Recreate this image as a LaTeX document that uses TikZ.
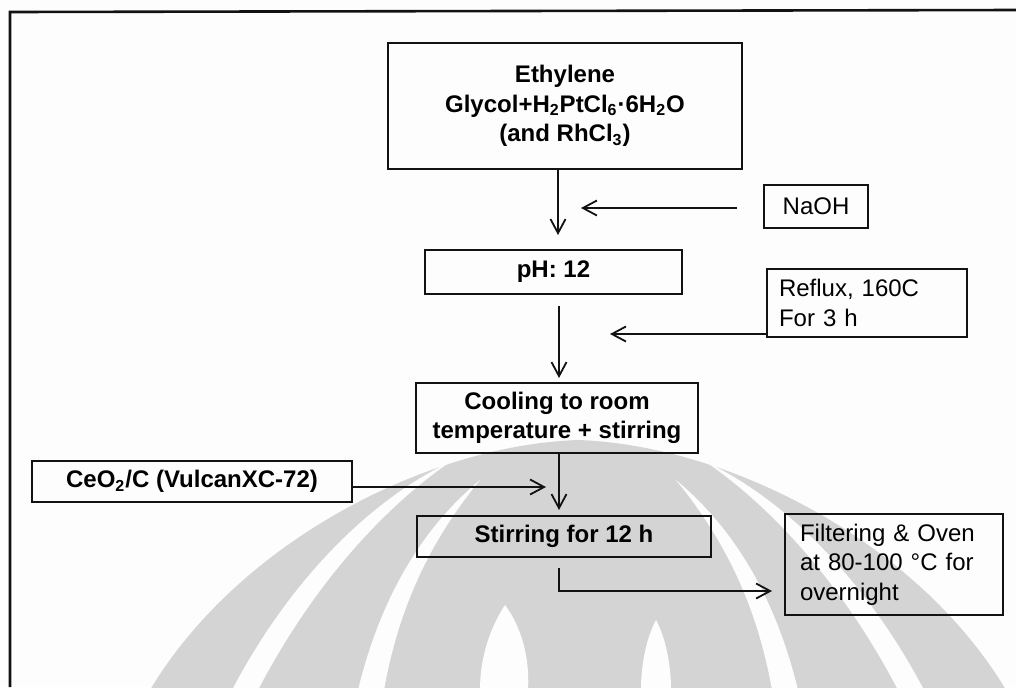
\documentclass[tikz,border=0pt]{standalone}
\usepackage{fontspec}
\setmainfont{Liberation Sans}
\usetikzlibrary{arrows.meta}
\definecolor{ink}{RGB}{18,18,18}
\definecolor{wm}{RGB}{212,212,212}
\definecolor{paper}{RGB}{253,253,253}

\begin{document}
\begin{tikzpicture}[x=0.5pt,y=-0.5pt,
  box/.style={draw=ink, line width=1.2pt, inner sep=0pt, align=center,
    font=\fontsize{12}{14.75}\selectfont},
  boldbox/.style={box, font=\fontsize{12}{14.75}\selectfont\bfseries},
  notebox/.style={box, align=left, inner xsep=6pt},
  arr/.style={draw=ink, line width=0.9pt, -{Straight Barb[length=7pt,width=7.5pt,line width=0.9pt]}},
  frame/.style={draw=ink, line width=1.3pt}]
\useasboundingbox (0,0) rectangle (1016,687);
\fill[paper] (0,0) rectangle (1016,687);

% background emblem: grey crown with white separating bands
\fill[wm] (150,690) .. controls (240,540) and (430,445) .. (578,440)
  .. controls (726,445) and (916,540) .. (1006,690) -- cycle;
% outer bands
\fill[paper] (232,690) .. controls (290,580) and (370,500) .. (450,462)
  .. controls (380,510) and (310,590) .. (258,690) -- cycle;
\fill[paper] (924,690) .. controls (866,580) and (786,500) .. (706,462)
  .. controls (776,510) and (846,590) .. (898,690) -- cycle;
% inner bands
\fill[paper] (358,690) .. controls (380,600) and (420,530) .. (480,480)
  .. controls (435,535) and (400,600) .. (384,690) -- cycle;
\fill[paper] (798,690) .. controls (776,600) and (736,530) .. (676,480)
  .. controls (721,535) and (756,600) .. (772,690) -- cycle;
% central lenses
\fill[paper] (480,690) .. controls (480,650) and (495,620) .. (505,605)
  .. controls (520,625) and (530,655) .. (528,690) -- cycle;
\fill[paper] (641,690) .. controls (641,660) and (648,635) .. (656,620)
  .. controls (664,635) and (671,660) .. (671,690) -- cycle;

% outer frame
\draw[frame] (10,687) -- (10,12) -- (1016,10);

% process steps
\node[boldbox, minimum width=177pt, minimum height=63pt] (top) at (565,106)
  {Ethylene\\Glycol+H\textsubscript{2}PtCl\textsubscript{6}·6H\textsubscript{2}O\\(and RhCl\textsubscript{3})};
\node[box, minimum width=52pt, minimum height=21.5pt] (naoh) at (816,206.5) {NaOH};
\node[boldbox, minimum width=128.5pt, minimum height=22pt] (ph) at (553.5,272) {pH: 12};
\node[notebox, text width=88pt, minimum height=34pt] (reflux) at (867,303)
  {Reflux, 160C\\For 3 h};
\node[boldbox, minimum width=141pt, minimum height=35pt] (cooling) at (557,418)
  {Cooling to room\\temperature + stirring};
\node[boldbox, minimum width=160pt, minimum height=20.5pt] (ceo) at (192,481.5)
  {CeO\textsubscript{2}/C (VulcanXC-72)};
\node[boldbox, minimum width=147pt, minimum height=20.5pt] (stir) at (564,536.5)
  {Stirring for 12 h};
\node[notebox, inner xsep=7.5pt, text width=94pt, minimum height=50.5pt] (filter) at (894,564.5)
  {Filtering \& Oven\\at 80-100 °C for\\overnight};

% connector end points
\coordinate (a1) at (558,235);
\coordinate (n1) at (581,208);
\coordinate (a2) at (559,378);
\coordinate (r1) at (610,334);
\coordinate (a3) at (559,510);
\coordinate (c1) at (546,487);
\coordinate (f0) at (559,591);
\coordinate (f1) at (772,591);

% connectors
\draw[arr] (top.south -| a1) -- (a1);
\draw[arr, shorten <=13pt] (naoh.west |- n1) -- (n1);
\draw[arr, shorten <=5.5pt] (ph.south -| a2) -- (a2);
\draw[arr] (reflux.west |- r1) -- (r1);
\draw[arr] (cooling.south -| a3) -- (a3);
\draw[arr] (ceo.east |- c1) -- (c1);
\draw[arr, shorten <=5pt] (stir.south -| f0) -- (f0) -- (f1);
\end{tikzpicture}
\end{document}
